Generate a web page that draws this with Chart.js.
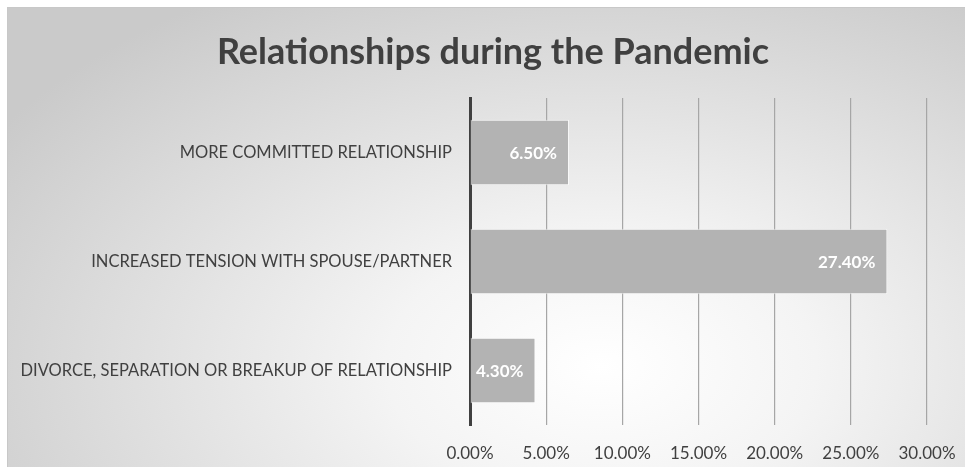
<!DOCTYPE html>
<html>
<head>
<meta charset="utf-8">
<script src="https://cdn.jsdelivr.net/npm/chart.js@4/dist/chart.umd.min.js"></script>
<style>
    html, body { margin: 0; padding: 0; background: #fff; }
    #box {
        position: absolute; left: 7px; top: 7px; width: 957px; height: 459px;
        border-top: 1px solid #c8c8c8; border-left: 1px solid #c8c8c8;
        background: radial-gradient(ellipse 75% 95% at 62% 78%, #ffffff 0%, #f4f4f4 30%, #dcdcdc 70%, #cacaca 100%);
    }
    canvas { position: absolute; left: 0; top: 0; }
</style>
</head>
<body>
<div id="box"><canvas id="chart" width="957" height="459"></canvas></div>
<script>
// ================= DATI =================

const titolo = "Relationships during the Pandemic";

const categorie = [
    "MORE COMMITTED RELATIONSHIP",
    "INCREASED TENSION WITH SPOUSE/PARTNER",
    "DIVORCE, SEPARATION OR BREAKUP OF RELATIONSHIP"
];

const valori = [6.5, 27.4, 4.3];

const tickX = [0, 5, 10, 15, 20, 25, 30];

const FONT = "Lato, 'Open Sans', sans-serif";

// ================= TITOLO E ETICHETTE =================

const testi = {
    id: "testi",
    afterDraw(chart) {
        const ctx = chart.ctx;
        ctx.save();

        // titolo
        ctx.font = "bold 36px " + FONT;
        ctx.fillStyle = "#404040";
        ctx.textAlign = "center";
        ctx.textBaseline = "alphabetic";
        ctx.fillText(titolo, 485, 56);

        // valori sulle barre
        const meta = chart.getDatasetMeta(0);
        ctx.font = "bold 17px " + FONT;
        ctx.fillStyle = "#ffffff";
        ctx.textAlign = "right";
        ctx.textBaseline = "middle";
        meta.data.forEach((bar, i) => {
            ctx.fillText(valori[i].toFixed(2) + "%", bar.x - 12, bar.y + 1);
        });

        ctx.restore();
    }
};

// ================= GRAFICO =================

const ctx = document.getElementById("chart").getContext("2d");

new Chart(ctx, {
    type: "bar",
    data: {
        labels: categorie,
        datasets: [{
            data: valori,
            backgroundColor: "#b3b3b3",
            borderColor: "rgba(255,255,255,0.7)",
            borderWidth: 1,
            borderSkipped: "left",
            categoryPercentage: 1,
            barPercentage: 0.6
        }]
    },
    options: {
        indexAxis: "y",
        responsive: false,
        animation: false,
        layout: { padding: { top: 90, right: 38, bottom: 0, left: 0 } },
        plugins: {
            legend: { display: false },
            tooltip: { enabled: false },
            title: { display: false }
        },
        scales: {
            x: {
                min: 0,
                max: 30,
                afterBuildTicks(scale) {
                    scale.ticks = tickX.map(v => ({ value: v }));
                },
                afterFit(scale) {
                    scale.height = 42;
                    scale.paddingRight = 0;
                    scale.paddingLeft = 0;
                },
                ticks: {
                    color: "#404040",
                    font: { family: FONT, size: 17 },
                    padding: 18,
                    maxRotation: 0,
                    callback: v => v.toFixed(2) + "%"
                },
                grid: { color: "#a6a6a6", lineWidth: 1.2, drawTicks: false },
                border: { display: false }
            },
            y: {
                afterFit(scale) {
                    scale.width = 462;
                    scale.paddingTop = 0;
                    scale.paddingBottom = 0;
                },
                ticks: {
                    color: "#404040",
                    font: { family: FONT, size: 16.5 },
                    padding: 18
                },
                grid: { display: false, drawTicks: false },
                border: { display: true, color: "#404040", width: 3 }
            }
        }
    },
    plugins: [testi]
});
</script>
</body>
</html>
